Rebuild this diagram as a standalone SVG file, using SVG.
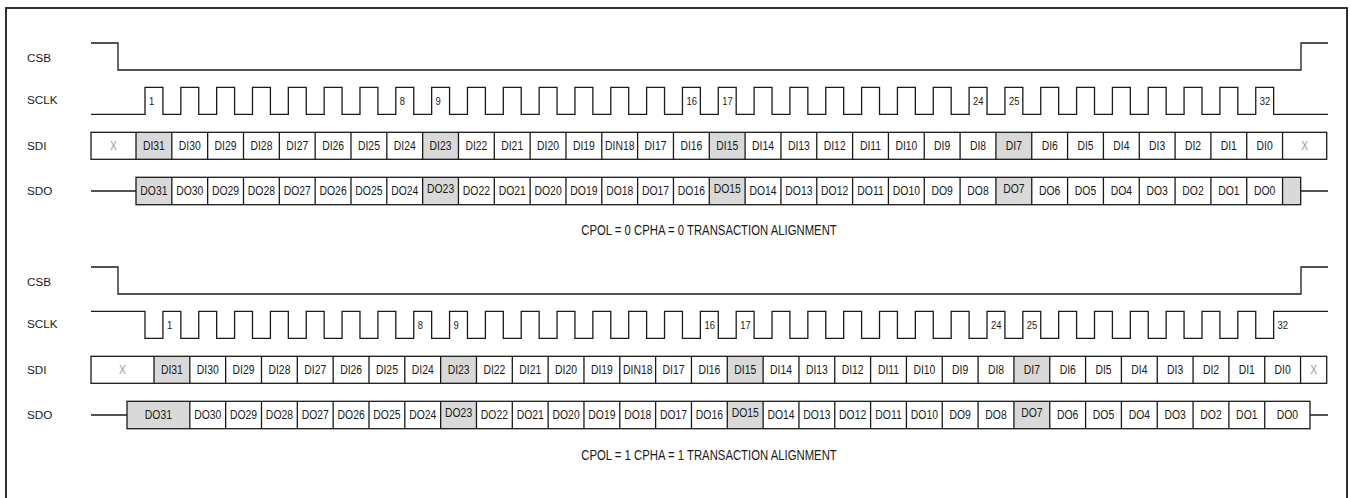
<svg xmlns="http://www.w3.org/2000/svg" width="1351" height="498" viewBox="0 0 1351 498">
<style>
.frame{fill:none;stroke:#1a1a1a;stroke-width:1.8}
.w{fill:none;stroke:#1a1a1a;stroke-width:1.3}
.sh{fill:#d9d9d9;stroke:none}
.lab{font-family:"Liberation Sans",Arial,sans-serif;font-size:11.7px;fill:#1a1a1a}
.c{font-family:"Liberation Sans",Arial,sans-serif;font-size:13px;fill:#1a1a1a;text-anchor:middle;transform-box:fill-box;transform-origin:50% 50%;transform:scaleX(0.8)}
.x{fill:#9a9a9a}
.n{font-family:"Liberation Sans",Arial,sans-serif;font-size:11.5px;fill:#1a1a1a;transform-box:fill-box;transform-origin:0 50%;transform:scaleX(0.82)}
.cap{font-family:"Liberation Sans",Arial,sans-serif;font-size:14px;fill:#1a1a1a;text-anchor:middle;transform-box:fill-box;transform-origin:50% 50%;transform:scaleX(0.81)}
</style>
<rect class="frame" x="6" y="8" width="1341" height="492"/>

<g id="top">
<g id="top-labels">
<text class="lab" x="27" y="61.5">CSB</text>
<text class="lab" x="27" y="104.3">SCLK</text>
<text class="lab" x="27" y="150">SDI</text>
<text class="lab" x="27" y="195">SDO</text>
</g>
<g id="top-csb"><path class="w" d="M91,43H118V70H1301V43H1328"/></g>
<g id="top-sclk">
<path class="w" d="M91,114.3H145
v-27h17.915v27h17.915 v-27h17.915v27h17.915 v-27h17.915v27h17.915 v-27h17.915v27h17.915 v-27h17.915v27h17.915 v-27h17.915v27h17.915 v-27h17.915v27h17.915 v-27h17.915v27h17.915
v-27h17.915v27h17.915 v-27h17.915v27h17.915 v-27h17.915v27h17.915 v-27h17.915v27h17.915 v-27h17.915v27h17.915 v-27h17.915v27h17.915 v-27h17.915v27h17.915 v-27h17.915v27h17.915
v-27h17.915v27h17.915 v-27h17.915v27h17.915 v-27h17.915v27h17.915 v-27h17.915v27h17.915 v-27h17.915v27h17.915 v-27h17.915v27h17.915 v-27h17.915v27h17.915 v-27h17.915v27h17.915
v-27h17.915v27h17.915 v-27h17.915v27h17.915 v-27h17.915v27h17.915 v-27h17.915v27h17.915 v-27h17.915v27h17.915 v-27h17.915v27h17.915 v-27h17.915v27h17.915 v-27h17.915v27h17.915
H1328"/>
<text class="n" x="149" y="105.5">1</text>
<text class="n" x="399.8" y="105.5">8</text>
<text class="n" x="435.6" y="105.5">9</text>
<text class="n" x="686.5" y="105.5">16</text>
<text class="n" x="722.3" y="105.5">17</text>
<text class="n" x="973.1" y="105.5">24</text>
<text class="n" x="1008.9" y="105.5">25</text>
<text class="n" x="1259.7" y="105.5">32</text>
</g>
<g id="top-sdi">
<rect class="sh" x="136" y="132.3" width="35.83" height="27"/>
<rect class="sh" x="422.64" y="132.3" width="35.83" height="27"/>
<rect class="sh" x="709.28" y="132.3" width="35.83" height="27"/>
<rect class="sh" x="995.92" y="132.3" width="35.83" height="27"/>
<rect class="w" x="91" y="132.3" width="1235.7" height="27"/>
<path class="w" d="M136,132.3v27M171.83,132.3v27M207.66,132.3v27M243.49,132.3v27M279.32,132.3v27M315.15,132.3v27M350.98,132.3v27M386.81,132.3v27M422.64,132.3v27M458.47,132.3v27M494.3,132.3v27M530.13,132.3v27M565.96,132.3v27M601.79,132.3v27M637.62,132.3v27M673.45,132.3v27M709.28,132.3v27M745.11,132.3v27M780.94,132.3v27M816.77,132.3v27M852.6,132.3v27M888.43,132.3v27M924.26,132.3v27M960.09,132.3v27M995.92,132.3v27M1031.75,132.3v27M1067.58,132.3v27M1103.41,132.3v27M1139.24,132.3v27M1175.07,132.3v27M1210.9,132.3v27M1246.73,132.3v27M1282.56,132.3v27"/>
<text class="c x" x="113.5" y="150.5">X</text>
<text class="c" x="153.92" y="150.5">DI31</text>
<text class="c" x="189.75" y="150.5">DI30</text>
<text class="c" x="225.58" y="150.5">DI29</text>
<text class="c" x="261.41" y="150.5">DI28</text>
<text class="c" x="297.24" y="150.5">DI27</text>
<text class="c" x="333.07" y="150.5">DI26</text>
<text class="c" x="368.9" y="150.5">DI25</text>
<text class="c" x="404.73" y="150.5">DI24</text>
<text class="c" x="440.56" y="150.5">DI23</text>
<text class="c" x="476.39" y="150.5">DI22</text>
<text class="c" x="512.22" y="150.5">DI21</text>
<text class="c" x="548.05" y="150.5">DI20</text>
<text class="c" x="583.88" y="150.5">DI19</text>
<text class="c" x="619.71" y="150.5">DIN18</text>
<text class="c" x="655.54" y="150.5">DI17</text>
<text class="c" x="691.37" y="150.5">DI16</text>
<text class="c" x="727.2" y="150.5">DI15</text>
<text class="c" x="763.03" y="150.5">DI14</text>
<text class="c" x="798.86" y="150.5">DI13</text>
<text class="c" x="834.69" y="150.5">DI12</text>
<text class="c" x="870.52" y="150.5">DI11</text>
<text class="c" x="906.35" y="150.5">DI10</text>
<text class="c" x="942.18" y="150.5">DI9</text>
<text class="c" x="978.01" y="150.5">DI8</text>
<text class="c" x="1013.84" y="150.5">DI7</text>
<text class="c" x="1049.67" y="150.5">DI6</text>
<text class="c" x="1085.5" y="150.5">DI5</text>
<text class="c" x="1121.33" y="150.5">DI4</text>
<text class="c" x="1157.16" y="150.5">DI3</text>
<text class="c" x="1192.99" y="150.5">DI2</text>
<text class="c" x="1228.82" y="150.5">DI1</text>
<text class="c" x="1264.65" y="150.5">DI0</text>
<text class="c x" x="1304.6" y="150.5">X</text>
</g>
<g id="top-sdo">
<rect class="sh" x="136" y="177.3" width="35.83" height="27.4"/>
<rect class="sh" x="422.64" y="177.3" width="35.83" height="27.4"/>
<rect class="sh" x="709.28" y="177.3" width="35.83" height="27.4"/>
<rect class="sh" x="995.92" y="177.3" width="35.83" height="27.4"/>
<rect class="sh" x="1282.56" y="177.3" width="18.14" height="27.4"/>
<rect class="w" x="136" y="177.3" width="1164.7" height="27.4"/>
<path class="w" d="M91,191H136M1300.7,191H1328M171.83,177.3v27.4M207.66,177.3v27.4M243.49,177.3v27.4M279.32,177.3v27.4M315.15,177.3v27.4M350.98,177.3v27.4M386.81,177.3v27.4M422.64,177.3v27.4M458.47,177.3v27.4M494.3,177.3v27.4M530.13,177.3v27.4M565.96,177.3v27.4M601.79,177.3v27.4M637.62,177.3v27.4M673.45,177.3v27.4M709.28,177.3v27.4M745.11,177.3v27.4M780.94,177.3v27.4M816.77,177.3v27.4M852.6,177.3v27.4M888.43,177.3v27.4M924.26,177.3v27.4M960.09,177.3v27.4M995.92,177.3v27.4M1031.75,177.3v27.4M1067.58,177.3v27.4M1103.41,177.3v27.4M1139.24,177.3v27.4M1175.07,177.3v27.4M1210.9,177.3v27.4M1246.73,177.3v27.4M1282.56,177.3v27.4"/>
<text class="c" x="153.92" y="195.5">DO31</text>
<text class="c" x="189.75" y="195.5">DO30</text>
<text class="c" x="225.58" y="195.5">DO29</text>
<text class="c" x="261.41" y="195.5">DO28</text>
<text class="c" x="297.24" y="195.5">DO27</text>
<text class="c" x="333.07" y="195.5">DO26</text>
<text class="c" x="368.9" y="195.5">DO25</text>
<text class="c" x="404.73" y="195.5">DO24</text>
<text class="c" x="440.56" y="193">DO23</text>
<text class="c" x="476.39" y="195.5">DO22</text>
<text class="c" x="512.22" y="195.5">DO21</text>
<text class="c" x="548.05" y="195.5">DO20</text>
<text class="c" x="583.88" y="195.5">DO19</text>
<text class="c" x="619.71" y="195.5">DO18</text>
<text class="c" x="655.54" y="195.5">DO17</text>
<text class="c" x="691.37" y="195.5">DO16</text>
<text class="c" x="727.2" y="193">DO15</text>
<text class="c" x="763.03" y="195.5">DO14</text>
<text class="c" x="798.86" y="195.5">DO13</text>
<text class="c" x="834.69" y="195.5">DO12</text>
<text class="c" x="870.52" y="195.5">DO11</text>
<text class="c" x="906.35" y="195.5">DO10</text>
<text class="c" x="942.18" y="195.5">DO9</text>
<text class="c" x="978.01" y="195.5">DO8</text>
<text class="c" x="1013.84" y="193">DO7</text>
<text class="c" x="1049.67" y="195.5">DO6</text>
<text class="c" x="1085.5" y="195.5">DO5</text>
<text class="c" x="1121.33" y="195.5">DO4</text>
<text class="c" x="1157.16" y="195.5">DO3</text>
<text class="c" x="1192.99" y="195.5">DO2</text>
<text class="c" x="1228.82" y="195.5">DO1</text>
<text class="c" x="1264.65" y="195.5">DO0</text>
</g>
<text class="cap" x="709" y="235.5">CPOL = 0 CPHA = 0 TRANSACTION ALIGNMENT</text>
</g>

<g id="bottom">
<g id="bottom-labels">
<text class="lab" x="27" y="286">CSB</text>
<text class="lab" x="27" y="328.3">SCLK</text>
<text class="lab" x="27" y="374">SDI</text>
<text class="lab" x="27" y="419">SDO</text>
</g>
<g id="bottom-csb"><path class="w" d="M91,267H118V294H1301V267H1328"/></g>
<g id="bottom-sclk">
<path class="w" d="M91,311.3H145
v27h17.915v-27h17.915 v27h17.915v-27h17.915 v27h17.915v-27h17.915 v27h17.915v-27h17.915 v27h17.915v-27h17.915 v27h17.915v-27h17.915 v27h17.915v-27h17.915 v27h17.915v-27h17.915
v27h17.915v-27h17.915 v27h17.915v-27h17.915 v27h17.915v-27h17.915 v27h17.915v-27h17.915 v27h17.915v-27h17.915 v27h17.915v-27h17.915 v27h17.915v-27h17.915 v27h17.915v-27h17.915
v27h17.915v-27h17.915 v27h17.915v-27h17.915 v27h17.915v-27h17.915 v27h17.915v-27h17.915 v27h17.915v-27h17.915 v27h17.915v-27h17.915 v27h17.915v-27h17.915 v27h17.915v-27h17.915
v27h17.915v-27h17.915 v27h17.915v-27h17.915 v27h17.915v-27h17.915 v27h17.915v-27h17.915 v27h17.915v-27h17.915 v27h17.915v-27h17.915 v27h17.915v-27h17.915 v27h17.915v-27h17.915
H1328"/>
<text class="n" x="166.9" y="329.5">1</text>
<text class="n" x="417.7" y="329.5">8</text>
<text class="n" x="453.6" y="329.5">9</text>
<text class="n" x="704.4" y="329.5">16</text>
<text class="n" x="740.2" y="329.5">17</text>
<text class="n" x="991" y="329.5">24</text>
<text class="n" x="1026.8" y="329.5">25</text>
<text class="n" x="1277.6" y="329.5">32</text>
</g>
<g id="bottom-sdi">
<rect class="sh" x="154" y="356.3" width="35.83" height="27"/>
<rect class="sh" x="440.64" y="356.3" width="35.83" height="27"/>
<rect class="sh" x="727.28" y="356.3" width="35.83" height="27"/>
<rect class="sh" x="1013.92" y="356.3" width="35.83" height="27"/>
<rect class="w" x="91" y="356.3" width="1235.7" height="27"/>
<path class="w" d="M154,356.3v27M189.83,356.3v27M225.66,356.3v27M261.49,356.3v27M297.32,356.3v27M333.15,356.3v27M368.98,356.3v27M404.81,356.3v27M440.64,356.3v27M476.47,356.3v27M512.3,356.3v27M548.13,356.3v27M583.96,356.3v27M619.79,356.3v27M655.62,356.3v27M691.45,356.3v27M727.28,356.3v27M763.11,356.3v27M798.94,356.3v27M834.77,356.3v27M870.6,356.3v27M906.43,356.3v27M942.26,356.3v27M978.09,356.3v27M1013.92,356.3v27M1049.75,356.3v27M1085.58,356.3v27M1121.41,356.3v27M1157.24,356.3v27M1193.07,356.3v27M1228.9,356.3v27M1264.73,356.3v27M1300.56,356.3v27"/>
<text class="c x" x="122.5" y="374.5">X</text>
<text class="c" x="171.92" y="374.5">DI31</text>
<text class="c" x="207.75" y="374.5">DI30</text>
<text class="c" x="243.58" y="374.5">DI29</text>
<text class="c" x="279.41" y="374.5">DI28</text>
<text class="c" x="315.24" y="374.5">DI27</text>
<text class="c" x="351.07" y="374.5">DI26</text>
<text class="c" x="386.9" y="374.5">DI25</text>
<text class="c" x="422.73" y="374.5">DI24</text>
<text class="c" x="458.56" y="374.5">DI23</text>
<text class="c" x="494.39" y="374.5">DI22</text>
<text class="c" x="530.22" y="374.5">DI21</text>
<text class="c" x="566.05" y="374.5">DI20</text>
<text class="c" x="601.88" y="374.5">DI19</text>
<text class="c" x="637.71" y="374.5">DIN18</text>
<text class="c" x="673.54" y="374.5">DI17</text>
<text class="c" x="709.37" y="374.5">DI16</text>
<text class="c" x="745.2" y="374.5">DI15</text>
<text class="c" x="781.03" y="374.5">DI14</text>
<text class="c" x="816.86" y="374.5">DI13</text>
<text class="c" x="852.69" y="374.5">DI12</text>
<text class="c" x="888.52" y="374.5">DI11</text>
<text class="c" x="924.35" y="374.5">DI10</text>
<text class="c" x="960.18" y="374.5">DI9</text>
<text class="c" x="996.01" y="374.5">DI8</text>
<text class="c" x="1031.84" y="374.5">DI7</text>
<text class="c" x="1067.67" y="374.5">DI6</text>
<text class="c" x="1103.5" y="374.5">DI5</text>
<text class="c" x="1139.33" y="374.5">DI4</text>
<text class="c" x="1175.16" y="374.5">DI3</text>
<text class="c" x="1210.99" y="374.5">DI2</text>
<text class="c" x="1246.82" y="374.5">DI1</text>
<text class="c" x="1282.65" y="374.5">DI0</text>
<text class="c x" x="1313.6" y="374.5">X</text>
</g>
<g id="bottom-sdo">
<rect class="sh" x="127" y="401.3" width="62.83" height="27.4"/>
<rect class="sh" x="440.64" y="401.3" width="35.83" height="27.4"/>
<rect class="sh" x="727.28" y="401.3" width="35.83" height="27.4"/>
<rect class="sh" x="1013.92" y="401.3" width="35.83" height="27.4"/>
<rect class="w" x="127" y="401.3" width="1183" height="27.4"/>
<path class="w" d="M91,415H127M1310,415H1328M189.83,401.3v27.4M225.66,401.3v27.4M261.49,401.3v27.4M297.32,401.3v27.4M333.15,401.3v27.4M368.98,401.3v27.4M404.81,401.3v27.4M440.64,401.3v27.4M476.47,401.3v27.4M512.3,401.3v27.4M548.13,401.3v27.4M583.96,401.3v27.4M619.79,401.3v27.4M655.62,401.3v27.4M691.45,401.3v27.4M727.28,401.3v27.4M763.11,401.3v27.4M798.94,401.3v27.4M834.77,401.3v27.4M870.6,401.3v27.4M906.43,401.3v27.4M942.26,401.3v27.4M978.09,401.3v27.4M1013.92,401.3v27.4M1049.75,401.3v27.4M1085.58,401.3v27.4M1121.41,401.3v27.4M1157.24,401.3v27.4M1193.07,401.3v27.4M1228.9,401.3v27.4M1264.73,401.3v27.4"/>
<text class="c" x="158.4" y="419.5">DO31</text>
<text class="c" x="207.75" y="419.5">DO30</text>
<text class="c" x="243.58" y="419.5">DO29</text>
<text class="c" x="279.41" y="419.5">DO28</text>
<text class="c" x="315.24" y="419.5">DO27</text>
<text class="c" x="351.07" y="419.5">DO26</text>
<text class="c" x="386.9" y="419.5">DO25</text>
<text class="c" x="422.73" y="419.5">DO24</text>
<text class="c" x="458.56" y="417">DO23</text>
<text class="c" x="494.39" y="419.5">DO22</text>
<text class="c" x="530.22" y="419.5">DO21</text>
<text class="c" x="566.05" y="419.5">DO20</text>
<text class="c" x="601.88" y="419.5">DO19</text>
<text class="c" x="637.71" y="419.5">DO18</text>
<text class="c" x="673.54" y="419.5">DO17</text>
<text class="c" x="709.37" y="419.5">DO16</text>
<text class="c" x="745.2" y="417">DO15</text>
<text class="c" x="781.03" y="419.5">DO14</text>
<text class="c" x="816.86" y="419.5">DO13</text>
<text class="c" x="852.69" y="419.5">DO12</text>
<text class="c" x="888.52" y="419.5">DO11</text>
<text class="c" x="924.35" y="419.5">DO10</text>
<text class="c" x="960.18" y="419.5">DO9</text>
<text class="c" x="996.01" y="419.5">DO8</text>
<text class="c" x="1031.84" y="417">DO7</text>
<text class="c" x="1067.67" y="419.5">DO6</text>
<text class="c" x="1103.5" y="419.5">DO5</text>
<text class="c" x="1139.33" y="419.5">DO4</text>
<text class="c" x="1175.16" y="419.5">DO3</text>
<text class="c" x="1210.99" y="419.5">DO2</text>
<text class="c" x="1246.82" y="419.5">DO1</text>
<text class="c" x="1287.4" y="419.5">DO0</text>
</g>
<text class="cap" x="709" y="460.5">CPOL = 1 CPHA = 1 TRANSACTION ALIGNMENT</text>
</g>
</svg>
